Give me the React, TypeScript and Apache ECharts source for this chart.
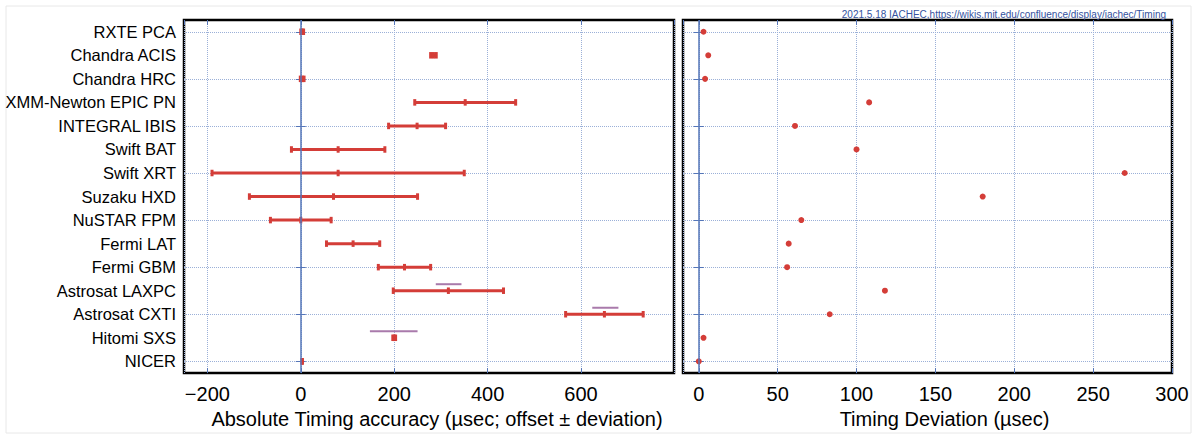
import React, { useEffect, useRef } from "react";
import * as echarts from "echarts";

const categories = [
  "RXTE PCA",
  "Chandra ACIS",
  "Chandra HRC",
  "XMM-Newton EPIC PN",
  "INTEGRAL IBIS",
  "Swift BAT",
  "Swift XRT",
  "Suzaku HXD",
  "NuSTAR FPM",
  "Fermi LAT",
  "Fermi GBM",
  "Astrosat LAXPC",
  "Astrosat CXTI",
  "Hitomi SXS",
  "NICER",
];
const offsets = [3, 284, 3, 352, 249, 80, 80, 70, 0, 112, 222, 316, 650, 200, 3];
const deviations = [3, 6, 4, 108, 61, 100, 270, 180, 65, 57, 56, 118, 83, 3, 0];

const altRows = ["Astrosat LAXPC", "Astrosat CXTI", "Hitomi SXS"];
const altLow = [289, 624, 148];
const altHigh = [344, 680, 250];

const noteText = "2021.5.18 IACHEC,https://wikis.mit.edu/confluence/display/iachec/Timing";
const leftAxisName = "Absolute Timing accuracy (\u00b5sec; offset \u00b1 deviation)";
const rightAxisName = "Timing Deviation (\u00b5sec)";

const RED = "#d43d38";
const PURPLE = "#a97aab";
const BLUE = "#5576b8";
const GRIDC = "#9bb0d8";
const FONT = "Liberation Sans";

export default function App() {
  const ref = useRef<HTMLDivElement>(null);
  useEffect(() => {
    document.body.style.margin = "0";
    const chart = echarts.init(ref.current!, null, { renderer: "svg" });

    const errData = categories.map((_, i) => [i, offsets[i] - deviations[i], offsets[i], offsets[i] + deviations[i]]);
    const altData = altRows.map((c, k) => [categories.indexOf(c), altLow[k], altHigh[k]]);
    const devData = categories.map((_, i) => [deviations[i], i]);

    const fmt = (v: number) => (v < 0 ? "\u2212" + Math.abs(v) : String(v));

    const xBase = (
      grid: number,
      min: number,
      max: number,
      step: number,
      name: string,
      showMax: boolean,
      shift: number
    ) => ({
      type: "value",
      gridIndex: grid,
      min,
      max,
      minInterval: step,
      maxInterval: step,
      position: "bottom",
      name,
      nameLocation: "middle",
      nameGap: 34,
      nameTextStyle: { fontSize: 20, color: "#000", fontFamily: FONT, padding: [0, 0, 0, shift] },
      axisLine: { show: false },
      axisTick: { show: true, inside: true, length: 5, lineStyle: { color: BLUE, width: 1 } },
      axisLabel: {
        show: true,
        fontSize: 20,
        color: "#000",
        margin: 11,
        fontFamily: FONT,
        showMinLabel: false,
        showMaxLabel: showMax,
        formatter: fmt,
      },
      splitLine: { show: true, lineStyle: { color: GRIDC, type: "dotted", width: 1 } },
    });
    const xTop = (grid: number, min: number, max: number, step: number) => ({
      type: "value",
      gridIndex: grid,
      min,
      max,
      minInterval: step,
      maxInterval: step,
      position: "top",
      axisLine: { show: false },
      axisTick: { show: true, inside: true, length: 5, lineStyle: { color: BLUE, width: 1 } },
      axisLabel: { show: false },
      splitLine: { show: false },
    });
    const yAx = (grid: number, pos: string, labels: boolean, split: boolean) => ({
      type: "category",
      gridIndex: grid,
      data: categories,
      inverse: true,
      boundaryGap: true,
      position: pos,
      axisLine: { show: false },
      axisTick: {
        show: true,
        inside: true,
        alignWithLabel: true,
        interval: 1,
        length: 5,
        lineStyle: { color: BLUE, width: 1 },
      },
      axisLabel: {
        show: labels,
        interval: 0,
        fontSize: 16.5,
        color: "#000",
        margin: 8,
        fontFamily: FONT,
      },
      splitLine: {
        show: split,
        interval: 1,
        alignWithLabel: true,
        lineStyle: { color: GRIDC, type: "dotted", width: 1 },
      },
    });

    const zeroLine = {
      silent: true,
      symbol: ["none", "none"],
      label: { show: false },
      lineStyle: { color: BLUE, type: "solid", width: 1.5 },
      data: [{ xAxis: 0 }],
    };

    chart.setOption({
      animation: false,
      textStyle: { fontFamily: FONT },
      title: {
        text: noteText,
        right: 26,
        top: 4,
        textStyle: { fontSize: 10, fontWeight: "normal", color: "#3552a0", fontFamily: FONT },
      },
      graphic: [
        {
          type: "rect",
          shape: { x: 6, y: 6, width: 1185, height: 427 },
          style: { fill: "none", stroke: "#e8e8e8", lineWidth: 1 },
          silent: true,
        },
      ],
      grid: [
        { left: 184, top: 20, width: 490, height: 354, show: true, borderColor: "#000", borderWidth: 2.5, backgroundColor: "transparent" },
        { left: 683, top: 20, width: 489, height: 354, show: true, borderColor: "#000", borderWidth: 2.5, backgroundColor: "transparent" },
      ],
      xAxis: [
        xBase(0, -250, 799, 200, leftAxisName, false, 16),
        xBase(1, -10, 300, 50, rightAxisName, true, 34),
        xTop(0, -250, 799, 200),
        xTop(1, -10, 300, 50),
      ],
      yAxis: [yAx(0, "left", true, true), yAx(0, "right", false, false), yAx(1, "left", false, true), yAx(1, "right", false, false)],
      series: [
        {
          type: "custom",
          name: "offset",
          xAxisIndex: 0,
          yAxisIndex: 0,
          data: errData,
          encode: { x: [1, 2, 3], y: 0 },
          markLine: zeroLine,
          z: 3,
          renderItem: (params: any, api: any) => {
            const yi = api.value(0);
            const pLo = api.coord([api.value(1), yi]);
            const pMid = api.coord([api.value(2), yi]);
            const pHi = api.coord([api.value(3), yi]);
            const cw = 3;
            const ch = 6.5;
            const cap = (p: number[]) => ({
              type: "rect",
              shape: { x: p[0] - cw / 2, y: p[1] - ch / 2, width: cw, height: ch },
              style: { fill: RED },
            });
            return {
              type: "group",
              children: [
                {
                  type: "line",
                  shape: { x1: pLo[0], y1: pLo[1], x2: pHi[0], y2: pHi[1] },
                  style: { stroke: RED, lineWidth: 3 },
                },
                cap(pLo),
                cap(pMid),
                cap(pHi),
              ],
            };
          },
        },
        {
          type: "custom",
          name: "alt",
          xAxisIndex: 0,
          yAxisIndex: 0,
          data: altData,
          encode: { x: [1, 2], y: 0 },
          z: 3,
          renderItem: (params: any, api: any) => {
            const yi = api.value(0);
            const a = api.coord([api.value(1), yi]);
            const b = api.coord([api.value(2), yi]);
            const lift = 6.5;
            return {
              type: "line",
              shape: { x1: a[0], y1: a[1] - lift, x2: b[0], y2: b[1] - lift },
              style: { stroke: PURPLE, lineWidth: 2 },
            };
          },
        },
        {
          type: "scatter",
          name: "deviation",
          xAxisIndex: 1,
          yAxisIndex: 2,
          data: devData,
          symbol: "circle",
          symbolSize: 6,
          itemStyle: { color: RED, opacity: 1 },
          markLine: zeroLine,
          z: 3,
        },
      ],
    });
    return () => chart.dispose();
  }, []);
  return <div ref={ref} style={{ width: 1197, height: 434 }} />;
}
